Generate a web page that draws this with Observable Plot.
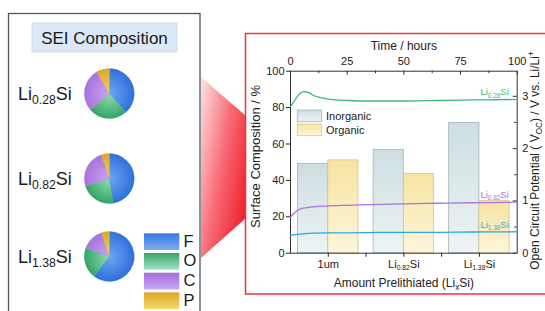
<!DOCTYPE html>
<html><head><meta charset="utf-8">
<script src="https://cdn.jsdelivr.net/npm/d3@7"></script>
<script src="https://cdn.jsdelivr.net/npm/@observablehq/plot@0.6"></script>
<style>
html,body{margin:0;padding:0;background:#fff;}
#fig{position:relative;width:545px;height:311px;overflow:hidden;background:#fff;}
#fig > svg{position:absolute;left:0;top:0;}
</style></head><body><div id="fig"></div>
<script>
// ---------- data ----------
const pieSamples = ["Li_{0.28}Si", "Li_{0.82}Si", "Li_{1.38}Si"];
const elements = ["F", "O", "C", "P"];
const pieF = [38.6, 47.5, 60.5];
const pieO = [25.0, 22.5, 20.0];
const pieC = [28.1, 25.0, 14.5];
const pieP = [8.3, 5.0, 5.0];

const barCategories = ["1um", "Li_{0.82}Si", "Li_{1.38}Si"];
const barTypes = ["Inorganic", "Organic"];
const inorganic = [49.1, 56.8, 71.6];
const organic = [51.0, 43.6, 28.6];

const seriesNames = ["Li_{0.28}Si", "Li_{0.82}Si", "Li_{1.38}Si"];
const timeHours = [0, 2, 4, 6, 8, 10, 12, 15, 20, 25, 35, 50, 65, 80, 100];
const ocpLi028 = [2.80, 2.93, 3.05, 3.09, 3.07, 3.02, 2.99, 2.96, 2.93, 2.92, 2.91, 2.91, 2.92, 2.93, 2.94];
const ocpLi082 = [0.69, 0.78, 0.84, 0.865, 0.875, 0.885, 0.895, 0.90, 0.91, 0.915, 0.93, 0.945, 0.955, 0.965, 0.975];
const ocpLi138 = [0.34, 0.355, 0.365, 0.372, 0.378, 0.382, 0.385, 0.388, 0.39, 0.39, 0.395, 0.40, 0.40, 0.405, 0.41];

const pctTicks = [0, 20, 40, 60, 80, 100];
const catTicks = [1, 2, 3];
const catMinorTicks = [1.5, 2.5];
const timeTicks = [0, 25, 50, 75, 100];
const timeMinorTicks = [12.5, 37.5, 62.5, 87.5];
const ocpTicks = [0, 1, 2, 3];
const ocpMinorTicks = [0.5, 1.5, 2.5];

// ---------- helpers ----------
const NS = "http://www.w3.org/2000/svg";
function rich(el, str, fs) {
  el.textContent = "";
  const parts = [];
  const re = /([_^])\{([^}]*)\}/g;
  let last = 0, m;
  while ((m = re.exec(str))) {
    if (m.index > last) parts.push([null, str.slice(last, m.index)]);
    parts.push([m[1], m[2]]);
    last = re.lastIndex;
  }
  if (last < str.length) parts.push([null, str.slice(last)]);
  let cur = 0;
  for (const [k, t] of parts) {
    const ts = document.createElementNS(NS, "tspan");
    const target = k === "_" ? fs * 0.22 : k === "^" ? -fs * 0.42 : 0;
    if (target - cur !== 0) ts.setAttribute("dy", (target - cur).toFixed(2));
    if (k) ts.setAttribute("font-size", (fs * 0.68).toFixed(2));
    ts.textContent = t;
    el.appendChild(ts);
    cur = target;
  }
}
function richify(svg, fsDefault) {
  svg.querySelectorAll("text").forEach(t => {
    const s = t.textContent;
    if (/[_^]\{/.test(s)) {
      let fs = parseFloat(t.getAttribute("font-size"));
      if (!fs) { const a = t.parentNode.closest("[font-size]"); fs = a ? parseFloat(a.getAttribute("font-size")) : fsDefault; }
      rich(t, s, fs || fsDefault);
    }
  });
}

const W = 545, H = 311;
const fig = document.getElementById("fig");
const FONT = "'Liberation Sans', Arial, sans-serif";

// ---------- background / left panel ----------
const bg = d3.select(fig).append("svg").attr("width", W).attr("height", H);
const defs = bg.append("defs");
function lin(id, c0, c1, x2 = 0, y2 = 1) {
  const g = defs.append("linearGradient").attr("id", id).attr("x1", 0).attr("y1", 0).attr("x2", x2).attr("y2", y2);
  g.append("stop").attr("offset", 0).attr("stop-color", c0);
  g.append("stop").attr("offset", 1).attr("stop-color", c1);
}
lin("gInorg", "#cddee0", "#edf4f5");
lin("gOrg", "#f7e3a0", "#fdf6dc");
const elemColors = {
  F: {center: "#6aa7f5", rim: "#2d6ed8", top: "#3b78dc", bottom: "#78b0f5"},
  O: {center: "#94dcb3", rim: "#2ea364", top: "#38a46a", bottom: "#a2e2be"},
  C: {center: "#caa6ef", rim: "#a670dc", top: "#a46edc", bottom: "#cba6f0"},
  P: {center: "#f5d264", rim: "#d9a624", top: "#d9a322", bottom: "#f8da72"}
};
elements.forEach(e => {
  const c = elemColors[e];
  const r = defs.append("radialGradient").attr("id", "rg" + e).attr("gradientUnits", "userSpaceOnUse")
    .attr("cx", 0).attr("cy", 0).attr("r", 26);
  r.append("stop").attr("offset", 0).attr("stop-color", c.center);
  r.append("stop").attr("offset", 1).attr("stop-color", c.rim);
  lin("lg" + e, c.top, c.bottom);
});
const tg = defs.append("linearGradient").attr("id", "trap").attr("x1", 0).attr("y1", 0).attr("x2", 1).attr("y2", 0.7);
tg.append("stop").attr("offset", 0).attr("stop-color", "#ffe2e5");
tg.append("stop").attr("offset", 0.55).attr("stop-color", "#f86872");
tg.append("stop").attr("offset", 1).attr("stop-color", "#ee2430");

// left panel frame
bg.append("rect").attr("x", 8.5).attr("y", 13.5).attr("width", 191.5).attr("height", 320)
  .attr("fill", "#fff").attr("stroke", "#4d5864").attr("stroke-width", 1.3);
bg.append("rect").attr("x", 32).attr("y", 23).attr("width", 145).attr("height", 29)
  .attr("fill", "#dbe8f6").attr("stroke", "#c3d6ec").attr("stroke-width", 0.8);
bg.append("text").attr("x", 104.5).attr("y", 43.5).attr("text-anchor", "middle")
  .attr("font-family", FONT).attr("font-size", 17).attr("fill", "#1a1a1a").text("SEI Composition");

// pies
const rowY = [93.5, 178.5, 256.5];
const pie = d3.pie().sort(null).value(d => d.v);
const arc = d3.arc().innerRadius(0).outerRadius(25);
pieSamples.forEach((s, i) => {
  const vals = [pieF[i], pieO[i], pieC[i], pieP[i]].map((v, k) => ({e: elements[k], v}));
  const g = bg.append("g").attr("transform", `translate(109.3,${rowY[i]})`);
  g.selectAll("path").data(pie(vals)).join("path")
    .attr("d", arc).attr("fill", d => `url(#rg${d.data.e})`)
    .attr("stroke", d => elemColors[d.data.e].rim).attr("stroke-width", 0.3);
  const t = bg.append("text").attr("x", 18).attr("y", rowY[i] + 6.5)
    .attr("font-family", FONT).attr("font-size", 18).attr("fill", "#1a1a1a");
  rich(t.node(), s, 18);
});
// element legend
elements.forEach((e, k) => {
  const y0 = 233.3 + 19.7 * k;
  bg.append("rect").attr("x", 144).attr("y", y0).attr("width", 35.3).attr("height", 16.7)
    .attr("fill", `url(#lg${e})`);
  bg.append("text").attr("x", 183.5).attr("y", y0 + 13.4).attr("font-family", FONT)
    .attr("font-size", 16.5).attr("fill", "#1a1a1a").text(e);
});
// spotlight trapezoid
bg.append("path").attr("d", "M201,77 L246,116 L246,218 L201,258 Z").attr("fill", "url(#trap)");
// red box
bg.append("rect").attr("x", 245.5).attr("y", 33.5).attr("width", 330).attr("height", 260.5)
  .attr("fill", "#fff").attr("stroke", "#ef3434").attr("stroke-width", 1.5);

// chart legend (Inorganic / Organic)
const legFills = ["url(#gInorg)", "url(#gOrg)"];
const legStrokes = ["#a3b4b6", "#d6c68e"];
barTypes.forEach((b, k) => {
  const y0 = 110 + 14 * k;
  bg.append("rect").attr("x", 297.3).attr("y", y0).attr("width", 24.4).attr("height", 11.7)
    .attr("fill", legFills[k]).attr("stroke", legStrokes[k]).attr("stroke-width", 0.8);
  bg.append("text").attr("x", 326).attr("y", y0 + 10).attr("font-family", FONT)
    .attr("font-size", 11).attr("fill", "#222").text(b);
});

// ---------- chart ----------
const mL = 290, mR = 28.3, mT = 70.7, mB = 58.3;
const plotW = W - mL - mR, plotH = H - mT - mB;
const barW = 0.4;
const barRows = [];
barCategories.forEach((c, i) => {
  barRows.push({cat: c, pos: i + 1, type: "Inorganic", value: inorganic[i]});
  barRows.push({cat: c, pos: i + 1, type: "Organic", value: organic[i]});
});
const baseStyle = {fontFamily: FONT, fontSize: "11px", color: "#222", background: "transparent", overflow: "visible"};

const plot1 = Plot.plot({
  width: W, height: H, marginLeft: mL, marginRight: mR, marginTop: mT, marginBottom: mB,
  x: {domain: [0.5, 3.5]},
  y: {domain: [0, 100]},
  style: baseStyle,
  marks: [
    Plot.rect(barRows.filter(d => d.type === "Inorganic"), {x1: d => d.pos - barW, x2: d => d.pos, y1: 0, y2: "value", fill: "url(#gInorg)", stroke: "#a3b4b6", strokeWidth: 0.8}),
    Plot.rect(barRows.filter(d => d.type === "Organic"), {x1: d => d.pos, x2: d => d.pos + barW, y1: 0, y2: "value", fill: "url(#gOrg)", stroke: "#d6c68e", strokeWidth: 0.8}),
    Plot.axisY({anchor: "left", ticks: pctTicks, tickFormat: d => String(d), tickSize: 4, tickPadding: 2, label: null}),
    Plot.axisX({anchor: "bottom", ticks: catTicks, tickFormat: i => barCategories[i - 1], tickSize: 4, tickPadding: 3, label: null}),
    Plot.axisX({anchor: "bottom", ticks: catMinorTicks, tickFormat: () => "", tickSize: 4, label: null}),
    Plot.text(["Surface Composition / %"], {frameAnchor: "left", text: d => d, rotate: -90, textAnchor: "middle", lineAnchor: "middle", dx: -35, dy: -5.7, fontSize: 13}),
    Plot.text(["Amount Prelithiated (Li_{x}Si)"], {frameAnchor: "bottom", text: d => d, textAnchor: "middle", lineAnchor: "middle", dy: 30.3, fontSize: 12})
  ]
});

const lineRows = [];
[ocpLi028, ocpLi082, ocpLi138].forEach((arr, k) =>
  arr.forEach((v, j) => lineRows.push({series: seriesNames[k], t: timeHours[j], v})));
const lineColors = ["#3dba78", "#a874e0", "#2aa9e0"];

const plot2 = Plot.plot({
  width: W, height: H, marginLeft: mL, marginRight: mR, marginTop: mT, marginBottom: mB,
  x: {domain: [0, 100]},
  y: {domain: [0, 3.48]},
  color: {domain: seriesNames, range: lineColors},
  style: baseStyle,
  marks: [
    Plot.frame({stroke: "#333", strokeWidth: 1}),
    Plot.line(lineRows, {x: "t", y: "v", z: "series", stroke: "series", strokeWidth: 1.3, curve: "monotone-x"}),
    Plot.text(lineRows, Plot.selectLast({x: "t", y: "v", z: "series", text: "series", fill: "series", textAnchor: "end", dx: -8.4, dy: -7, fontSize: 9.5})),
    Plot.axisX({anchor: "top", ticks: timeTicks, tickFormat: d => String(d), tickSize: 0, tickPadding: 6, label: null}),
    Plot.ruleX(timeTicks, {x: d => d, insetBottom: plotH - 4, stroke: "#333"}),
    Plot.ruleX(timeMinorTicks, {x: d => d, insetBottom: plotH - 2.5, stroke: "#333"}),
    Plot.axisY({anchor: "right", ticks: ocpTicks, tickFormat: d => String(d), tickSize: 0, tickPadding: 5, label: null}),
    Plot.ruleY(ocpTicks, {y: d => d, insetLeft: plotW - 4, stroke: "#333"}),
    Plot.ruleY(ocpMinorTicks, {y: d => d, insetLeft: plotW - 2.5, stroke: "#333"}),
    Plot.text(["Time / hours"], {frameAnchor: "top", text: d => d, textAnchor: "middle", lineAnchor: "middle", dy: -25.2, fontSize: 12}),
    Plot.text(["Open Circuit Potential ( V_{OC}) / V vs. Li/Li^{+}"], {frameAnchor: "right", text: d => d, rotate: -90, textAnchor: "middle", lineAnchor: "middle", dx: 18, dy: -1.7, fontSize: 12})
  ]
});

[plot1, plot2].forEach(p => {
  p.style.position = "absolute"; p.style.left = "0px"; p.style.top = "0px";
  p.style.background = "transparent"; p.style.maxWidth = "none";
  fig.appendChild(p);
  richify(p, 11);
});
</script>
</body></html>
